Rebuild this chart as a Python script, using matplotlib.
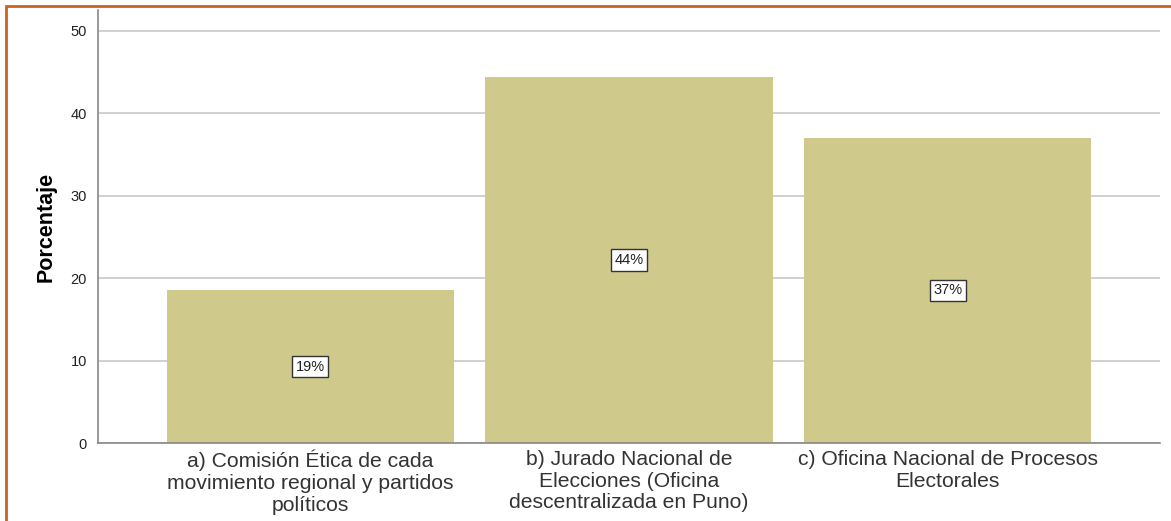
import matplotlib.pyplot as plt
import numpy as np
from matplotlib.patches import Rectangle

categories = ["a) Comisión Ética de cada\nmovimiento regional y partidos\npolíticos",
              "b) Jurado Nacional de\nElecciones (Oficina\ndescentralizada en Puno)",
              "c) Oficina Nacional de Procesos\nElectorales"]
values = [18.5, 44.4, 37.0]
labels = ["19%", "44%", "37%"]
yticks = [0, 10, 20, 30, 40, 50]

plt.rcParams["font.family"] = ["Liberation Sans", "DejaVu Sans"]

fig = plt.figure(figsize=(11.71, 5.21), dpi=100)
ax = fig.add_axes([0.0837, 0.1497, 0.9069, 0.8313])

x = np.arange(len(categories))
ax.bar(x, values, width=0.9, color="#cfc98c", zorder=2)
for xi, v, lab in zip(x, values, labels):
    ax.text(xi, v / 2, lab, ha="center", va="center", fontsize=10.5, color="#222222", zorder=3,
            bbox=dict(boxstyle="square,pad=0.25", facecolor="white", edgecolor="#333333", linewidth=1))

ax.set_xlim(-0.665, 2.665)
ax.set_ylim(0, 52.5)
ax.set_yticks(yticks)
ax.yaxis.grid(True, color="#c8c8c8", linewidth=1.2, zorder=0)
ax.set_axisbelow(True)
ax.set_xticks(x, categories, fontsize=15.2, color="#333333", linespacing=1.18)
ax.tick_params(axis="x", length=0, pad=5)
ax.tick_params(axis="y", length=0, pad=8, labelsize=10.5, labelcolor="#222222")
for s in ["top", "right"]:
    ax.spines[s].set_visible(False)
for s in ["left", "bottom"]:
    ax.spines[s].set_color("#888888")
    ax.spines[s].set_linewidth(1.2)
ax.set_ylabel("Porcentaje", fontsize=15.5, fontweight="bold", labelpad=10)

# orange frame around figure
fig.patches.append(Rectangle((0.005, -0.05), 1.2, 1.038, transform=fig.transFigure,
                             fill=False, edgecolor="#c8641e", linewidth=2))

fig.savefig("out.png", dpi=100)
